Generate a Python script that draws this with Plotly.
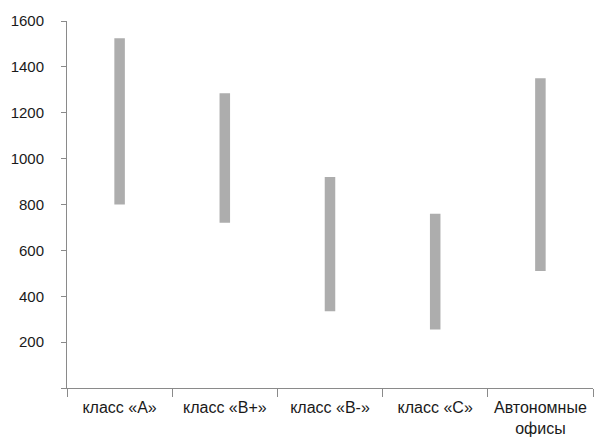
import plotly.graph_objects as go

# Office classes and their rent ranges
categories = ["класс «А»", "класс «В+»", "класс «В-»", "класс «С»", "Автономные<br>офисы"]
range_low = [800, 720, 335, 255, 510]
range_high = [1525, 1285, 920, 760, 1350]

y_ticks = [0, 200, 400, 600, 800, 1000, 1200, 1400, 1600]
y_tick_text = ["" if v == 0 else str(v) for v in y_ticks]

spans = [h - l for l, h in zip(range_low, range_high)]

font_family = "Liberation Sans, Arial, sans-serif"
axis_color = "#8a8a8a"

fig = go.Figure(
    go.Bar(
        x=categories,
        y=spans,
        base=range_low,
        width=0.1,
        marker=dict(color="#adadad", line=dict(width=0)),
        hoverinfo="skip",
    )
)

fig.update_layout(
    width=594,
    height=438,
    margin=dict(l=66.5, r=1, t=20.5, b=49.5),
    plot_bgcolor="white",
    paper_bgcolor="white",
    showlegend=False,
    font=dict(family=font_family, size=15, color="#1a1a1a"),
)

fig.update_xaxes(
    type="category",
    range=[-0.5, 4.5],
    automargin=False,
    showline=True,
    linecolor=axis_color,
    linewidth=1,
    showgrid=False,
    ticks="outside",
    tickson="boundaries",
    ticklen=8,
    tickcolor=axis_color,
    tickfont=dict(size=16),
    ticklabelstandoff=5,
    zeroline=False,
)

fig.update_yaxes(
    range=[0, 1600],
    automargin=False,
    tickvals=y_ticks,
    ticktext=y_tick_text,
    showline=True,
    linecolor=axis_color,
    linewidth=1,
    showgrid=False,
    zeroline=False,
    ticks="outside",
    ticklen=5,
    tickcolor=axis_color,
    ticklabelstandoff=14,
    tickfont=dict(size=15),
)

fig.write_html("out.html")
